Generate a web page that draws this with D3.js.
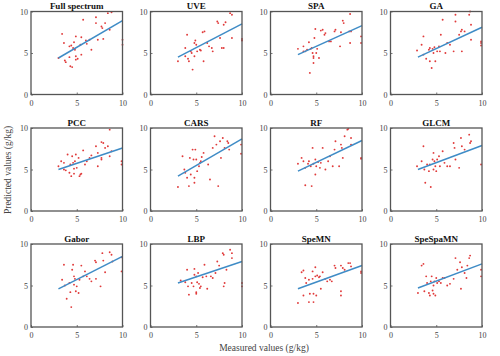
<!DOCTYPE html>
<html><head><meta charset="utf-8">
<script src="https://cdn.jsdelivr.net/npm/d3@7"></script>
<style>body{margin:0;background:#fff}svg{display:block}</style>
</head><body>
<script>
const titles = ["Full spectrum","UVE","SPA","GA","PCC","CARS","RF","GLCM","Gabor","LBP","SpeMN","SpeSpaMN"];
const ticks = [0,5,10];
const lineY3  = [4.4,4.5,4.8,4.5,5.0,4.2,4.8,5.0,4.6,5.3,4.6,4.7];
const lineY10 = [8.9,8.5,8.3,8.1,7.6,8.7,8.5,7.9,8.5,7.9,7.4,7.6];

const fullX=[3.4,3.6,3.7,3.8,4.2,4.3,4.5,4.4,4.7,4.6,4.9,4.8,4.9,4.9,5.1,5.4,5.5,5.7,5.5,6.0,6.1,6.4,6.6,7.1,7.1,7.3,7.7,7.8,8.1,8.4,8.8,8.6,7.9,10,10,4.2,3.0];
const fullY=[7.3,6.2,4.1,3.9,4.5,3.4,3.3,5.9,6.3,5.6,7.0,5.4,4.6,4.2,4.3,6.0,6.9,9.0,4.8,6.5,6.1,6.6,5.4,9.3,8.6,6.6,8.2,8.0,8.6,9.8,9.9,7.8,6.7,6.6,6.0,5.8,4.4];
const uveX=[3.0,3.8,4.0,4.1,4.2,4.5,4.6,4.8,4.9,5.0,4.8,5.1,5.4,5.5,5.7,5.9,5.8,6.2,6.4,6.7,6.8,7.3,7.4,7.6,7.8,8.0,8.0,8.2,8.7,8.9,8.9,10,10,3.8,4.4];
const uveY=[4.0,5.6,7.2,4.3,4.0,5.0,3.0,6.2,6.5,6.0,4.6,5.2,5.4,5.3,7.5,7.6,4.0,6.2,5.8,5.6,5.2,8.8,8.6,6.8,5.6,5.6,8.4,8.7,9.8,9.6,6.8,6.7,6.5,4.6,5.2];
const spaX=[3.0,3.6,3.8,4.0,4.2,4.3,4.4,4.5,4.6,4.7,4.7,4.7,4.8,4.9,5.0,5.1,5.3,5.5,5.7,5.9,6.0,6.4,6.6,7.0,7.1,7.6,7.7,7.9,8.0,8.6,8.7,8.8,8.7,9.9,9.9,3.6];
const spaY=[5.5,5.8,5.2,5.4,6.3,2.6,5.5,5.6,5.0,4.6,3.8,4.4,6.8,7.9,5.0,5.5,4.4,7.7,7.8,7.2,7.4,6.4,6.4,7.6,7.8,5.8,7.5,8.9,8.6,7.6,9.7,7.6,6.2,7.0,6.2,5.2];
const gaX=[2.9,3.4,3.6,3.6,3.9,4.2,4.3,4.5,4.3,4.6,4.7,4.8,4.9,5.1,5.3,5.4,5.5,5.7,6.0,6.2,6.5,6.9,7.1,7.1,7.5,7.7,7.8,7.8,8.1,8.6,8.7,8.8,8.8,9.9,9.9,9.9];
const gaY=[5.3,6.0,7.0,4.8,4.3,5.4,4.0,3.2,5.6,5.5,5.0,5.7,4.0,5.2,5.8,5.2,7.2,9.0,5.0,6.2,6.0,5.2,9.6,8.8,7.2,7.6,7.8,5.2,7.6,9.6,10,8.4,6.6,6.2,5.9,6.4];
const pccX=[3.0,3.3,3.6,3.6,3.8,4.0,4.2,4.3,4.4,4.5,4.6,4.7,4.7,4.8,4.9,5.0,5.2,5.3,5.4,5.5,5.7,5.9,6.1,6.4,6.6,7.1,7.3,7.3,7.7,7.9,8.1,7.7,7.7,8.4,8.6,8.8,8.6,9.9,9.9];
const pccY=[5.4,6.0,5.8,5.0,4.9,6.8,4.6,5.6,4.2,6.6,5.8,5.1,4.5,6.0,6.8,5.2,6.4,4.2,4.4,4.5,7.3,5.6,6.0,6.4,6.7,7.8,7.0,5.4,8.3,8.2,7.6,6.2,6.4,7.8,9.8,7.2,6.6,6.0,5.6];
const carsX=[3.0,3.5,3.7,3.8,4.0,4.2,4.3,4.4,4.6,4.7,4.8,4.8,4.9,5.0,5.1,5.3,5.4,5.5,5.6,5.8,6.3,6.5,6.8,7.0,7.2,7.4,7.6,7.7,7.9,8.1,8.4,8.5,8.6,9.9,9.9];
const carsY=[2.9,6.6,5.0,4.6,4.0,3.0,6.4,4.4,7.4,6.2,3.4,4.0,7.4,6.2,4.8,5.4,5.8,6.0,6.5,7.0,5.6,3.8,7.6,9.0,8.0,3.0,8.4,6.4,8.8,7.6,8.4,8.2,7.4,8.0,6.9];
const rfX=[3.0,3.4,3.6,3.8,3.8,4.1,4.2,4.4,4.5,4.6,4.7,4.9,4.9,5.0,5.2,5.4,5.5,5.7,6.0,6.3,6.5,6.8,7.0,7.1,7.5,7.7,7.8,7.9,8.1,8.4,8.5,8.8,8.8,9.9,9.9];
const rfY=[5.7,6.4,6.0,5.2,3.1,5.7,6.0,5.4,3.0,7.6,5.7,6.2,4.4,5.4,5.9,5.2,5.8,7.6,5.0,6.0,6.6,5.4,7.4,8.4,5.4,8.0,7.6,6.4,9.0,9.8,9.9,8.8,8.0,6.4,6.3];
const glcmX=[2.9,3.4,3.6,3.7,3.8,4.0,4.2,4.3,4.4,4.6,4.7,4.7,4.8,4.9,5.0,5.1,5.3,5.4,5.7,5.9,6.2,6.5,6.9,7.0,7.1,7.5,7.7,7.8,8.1,8.6,8.8,8.7,9.9];
const glcmY=[5.4,6.0,7.8,5.0,3.4,5.6,4.8,5.6,2.9,6.2,7.0,5.0,6.0,5.4,4.8,6.2,6.6,5.4,7.2,5.8,5.4,5.4,8.2,7.6,6.2,5.2,8.8,7.8,7.4,9.2,8.4,8.2,5.6];
const gaborX=[3.4,3.6,3.7,3.9,4.2,4.3,4.4,4.5,4.6,4.7,4.7,4.8,4.9,5.0,5.2,5.3,5.5,5.7,5.9,6.1,6.4,6.6,7.0,7.1,7.1,7.6,7.8,7.9,8.1,8.6,8.8,8.9,9.9,9.9];
const gaborY=[5.7,7.5,5.0,3.4,5.3,4.2,2.4,6.9,7.5,6.1,5.1,5.8,4.3,4.9,4.1,5.7,7.4,6.1,6.7,6.1,5.8,5.5,8.0,7.8,5.8,4.9,8.9,8.0,6.6,9.0,8.7,7.9,6.7,8.4];
const lbpX=[3.3,3.8,4.0,4.1,4.2,4.5,4.7,4.8,4.8,5.0,5.0,5.0,5.1,5.2,5.3,5.4,5.5,5.7,5.9,6.1,6.2,6.6,6.8,7.1,7.3,7.5,7.9,8.0,8.0,8.1,8.3,8.7,8.9,8.9,10,10];
const lbpY=[5.6,5.4,6.9,4.9,3.9,5.3,4.9,7.0,6.3,6.1,4.0,4.2,5.4,6.5,5.2,4.7,4.9,6.0,7.5,6.1,4.6,6.1,5.9,6.5,7.9,7.4,8.9,8.7,4.9,5.3,6.9,9.3,8.9,8.3,5.3,4.9];
const spemnX=[3.0,3.4,3.6,3.6,3.8,3.9,4.2,4.2,4.3,4.6,4.6,4.7,4.7,4.9,4.9,5.0,5.1,5.3,5.4,5.5,5.7,6.0,6.2,6.5,6.7,7.0,7.1,7.7,7.7,7.7,7.9,8.1,8.5,8.7,8.8,9.9,9.9];
const spemnY=[2.9,6.6,6.8,3.8,5.9,5.3,5.7,3.0,4.0,6.7,5.8,4.0,3.0,6.1,7.2,3.8,6.2,6.0,6.1,4.6,6.6,5.8,5.5,5.7,5.5,7.4,7.1,7.4,4.3,3.8,7.1,6.9,7.7,7.7,7.3,6.7,6.5];
const spespaX=[3.0,3.4,3.6,3.7,3.9,4.0,4.2,4.3,4.4,4.5,4.6,4.7,4.7,4.8,4.9,5.0,5.1,5.3,5.5,5.7,5.9,6.2,6.5,6.9,7.1,7.3,7.6,7.7,7.8,8.1,8.3,8.4,8.6,8.7,9.9,9.9];
const spespaY=[4.1,7.4,7.6,4.3,6.1,5.3,4.1,3.8,5.5,6.1,4.4,4.0,5.0,5.5,3.8,5.9,5.3,5.5,5.3,5.9,5.9,5.0,5.2,5.8,8.3,6.9,7.8,4.6,7.2,6.5,5.9,7.4,8.3,8.6,6.9,6.1];

const xsAll=[fullX,uveX,spaX,gaX,pccX,carsX,rfX,glcmX,gaborX,lbpX,spemnX,spespaX];
const ysAll=[fullY,uveY,spaY,gaY,pccY,carsY,rfY,glcmY,gaborY,lbpY,spemnY,spespaY];

const W=500,H=356;
const svg=d3.select("body").append("svg").attr("width",W).attr("height",H);
const lefts=[31,150.5,270.5,390.5], tops=[11.5,128,244];
const pw=91.5, ph=83;
const serif="'Liberation Serif','Times New Roman',serif";
const axisCol="#555";

titles.forEach((t,i)=>{
  const col=i%4,row=Math.floor(i/4);
  const g=svg.append("g").attr("transform",`translate(${lefts[col]},${tops[row]})`);
  const x=d3.scaleLinear().domain([0,10]).range([0,pw]);
  const y=d3.scaleLinear().domain([0,10]).range([ph,0]);
  g.selectAll("circle").data(xsAll[i].map((v,k)=>[v,ysAll[i][k]])).join("circle")
    .attr("cx",d=>x(d[0])).attr("cy",d=>y(d[1])).attr("r",0.95).attr("fill","#e03a3a");
  g.append("line").attr("x1",x(3)).attr("y1",y(lineY3[i])).attr("x2",x(10)).attr("y2",y(lineY10[i]))
    .attr("stroke","#3f8cc6").attr("stroke-width",1.5);
  const ax=g.append("g").attr("transform",`translate(0,${ph})`)
    .call(d3.axisBottom(x).tickValues(ticks).tickSize(-2).tickPadding(4).tickFormat(d3.format("d")));
  const ay=g.append("g").call(d3.axisLeft(y).tickValues(ticks).tickSize(-2).tickPadding(3).tickFormat(d3.format("d")));
  [ax,ay].forEach(a=>{
    a.select(".domain").remove();
    a.selectAll("line").attr("stroke",axisCol).attr("stroke-width",0.8);
    a.selectAll("text").attr("font-family",serif).attr("font-size",8).attr("fill","#444");
  });
  ax.selectAll("text").attr("dy","0.9em");
  g.append("rect").attr("x",0).attr("y",0).attr("width",pw).attr("height",ph)
    .attr("fill","none").attr("stroke",axisCol).attr("stroke-width",1.3);
  g.append("text").attr("x",pw/2).attr("y",-2.5).attr("text-anchor","middle")
    .attr("font-family",serif).attr("font-weight","bold").attr("font-size",9).attr("fill","#111").text(t);
});

svg.append("text").attr("transform","translate(11,170) rotate(-90)").attr("text-anchor","middle")
  .attr("font-family",serif).attr("font-size",9.5).attr("fill","#444").text("Predicted values (g/kg)");
svg.append("text").attr("x",264).attr("y",350.5).attr("text-anchor","middle")
  .attr("font-family",serif).attr("font-size",9.5).attr("fill","#444").text("Measured values (g/kg)");
</script>
</body></html>
